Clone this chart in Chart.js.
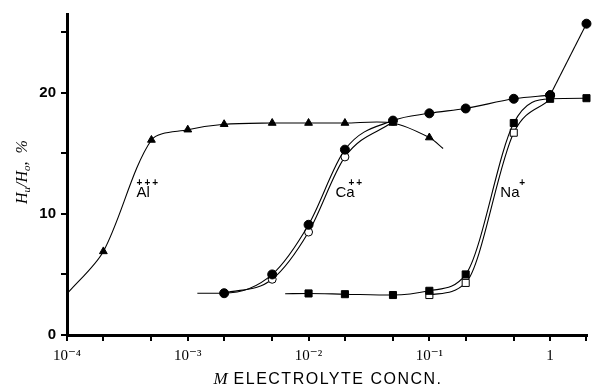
<!DOCTYPE html>
<html>
<head>
<meta charset="utf-8">
<script src="https://cdn.jsdelivr.net/npm/chart.js@4.4.1/dist/chart.umd.min.js"></script>
<style>
  html, body { margin: 0; padding: 0; background: #fff; }
  #wrap { width: 593px; height: 388px; }
</style>
</head>
<body>
<div id="wrap"><canvas id="hydration"></canvas></div>
<script>
// Hu/Ho (%) against electrolyte concentration (M)
const xTicks = [1e-4, 2e-4, 5e-4, 1e-3, 2e-3, 5e-3, 1e-2, 2e-2, 5e-2, 0.1, 0.2, 0.5, 1, 2];
const xTickLabels = ['10⁻⁴', '', '', '10⁻³', '', '', '10⁻²', '', '', '10⁻¹', '', '', '1', ''];
const yTicks = [0, 5, 10, 15, 20, 25];
const yTickLabels = ['0', '', '10', '', '20', ''];

// Al+++ triangles (first / last entries are only the ends of the drawn curve)
const alConc = [1e-4, 2e-4, 5e-4, 1e-3, 2e-3, 5e-3, 1e-2, 2e-2, 5e-2, 0.1, 0.13];
const alHu   = [3.4, 6.9, 16.1, 16.95, 17.4, 17.5, 17.5, 17.5, 17.5, 16.3, 15.4];
const alMark = [0, 1, 1, 1, 1, 1, 1, 1, 1, 1, 0];

// Ca++ filled circles
const caConc = [1.2e-3, 2e-3, 5e-3, 1e-2, 2e-2, 5e-2, 0.1, 0.2, 0.5, 1, 2];
const caHu   = [3.45, 3.45, 5.0, 9.1, 15.3, 17.7, 18.3, 18.7, 19.5, 19.8, 25.7];
const caMark = [0, 1, 1, 1, 1, 1, 1, 1, 1, 1, 1];

// Ca++ open circles
const caOpenConc = [2e-3, 5e-3, 1e-2, 2e-2, 5e-2];
const caOpenHu   = [3.45, 4.6, 8.5, 14.7, 17.6];
const caOpenMark = [0, 1, 1, 1, 0];

// Na+ filled squares
const naConc = [6.4e-3, 1e-2, 2e-2, 5e-2, 0.1, 0.2, 0.5, 1, 2];
const naHu   = [3.4, 3.43, 3.37, 3.3, 3.65, 5.0, 17.5, 19.5, 19.55];
const naMark = [0, 1, 1, 1, 1, 1, 1, 1, 1];

// Na+ open squares
const naOpenConc = [0.1, 0.2, 0.5, 1];
const naOpenHu   = [3.3, 4.3, 16.7, 19.45];
const naOpenMark = [1, 1, 1, 0];

// curve labels, anchored at their left edge / baseline in data units
const ionLabels = [
  { text: 'Al', sup: '+++', conc: 3.77e-4, hu: 11.36, supDx: 0 },
  { text: 'Ca', sup: '++', conc: 1.67e-2, hu: 11.36, supDx: 13 },
  { text: 'Na', sup: '+', conc: 0.387, hu: 11.36, supDx: 19 }
];

function pts(xs, ys) {
  return xs.map((x, i) => ({ x: x, y: ys[i] }));
}

function markRadius(marks, r) {
  return ctx => marks[ctx.dataIndex] ? r : 0;
}

function series(xs, ys, marks, style, r, fill) {
  return {
    data: pts(xs, ys),
    borderColor: '#000',
    borderWidth: 1.1,
    cubicInterpolationMode: 'monotone',
    pointStyle: style,
    pointRadius: markRadius(marks, r),
    pointBackgroundColor: fill,
    pointBorderColor: '#000',
    pointBorderWidth: 1,
    clip: false
  };
}

const caCurve = series(caConc.slice(0, -1), caHu.slice(0, -1), caMark.slice(0, -1), 'circle', 4.5, '#000');
const caJump = series(caConc.slice(-2), caHu.slice(-2), caMark.slice(-2), 'circle', 4.5, '#000');
caJump.cubicInterpolationMode = 'default';
caJump.tension = 0;

const alCurve = series(alConc, alHu, alMark, 'triangle', 4.5, '#000');
alCurve.cubicInterpolationMode = 'default';
alCurve.tension = 0.3;

const labelPlugin = {
  id: 'labelPlugin',
  afterDatasetsDraw(chart) {
    const c = chart.ctx;
    const xs = chart.scales.x, ys = chart.scales.y;
    c.save();
    c.fillStyle = '#000';
    c.textBaseline = 'alphabetic';
    ionLabels.forEach(l => {
      const px = xs.getPixelForValue(l.conc);
      const py = ys.getPixelForValue(l.hu);
      c.font = '15px "Liberation Sans", Arial, sans-serif';
      c.textAlign = 'left';
      c.fillText(l.text, px, py);
      c.font = 'bold 10px "Liberation Sans", Arial, sans-serif';
      c.letterSpacing = '2px';
      c.fillText(l.sup, px + l.supDx, py - 11);
      c.letterSpacing = '0px';
    });

    // x axis title: italic M + ELECTROLYTE CONCN.
    const rest = ' ELECTROLYTE CONCN.';
    c.font = 'italic 17px "Liberation Serif", serif';
    const mW = c.measureText('M').width;
    c.font = '16px "Liberation Sans", Arial, sans-serif';
    c.letterSpacing = '1.5px';
    const rW = c.measureText(rest).width;
    let x0 = 328 - (mW + rW) / 2;
    const by = 384;
    c.font = 'italic 17px "Liberation Serif", serif';
    c.letterSpacing = '0px';
    c.fillText('M', x0, by);
    c.font = '16px "Liberation Sans", Arial, sans-serif';
    c.letterSpacing = '1.5px';
    c.fillText(rest, x0 + mW, by);
    c.letterSpacing = '0px';

    // y axis title: Hu/Ho, %
    const parts = [['H', 16, 0], ['u', 11, 3], ['/', 16, 0], ['H', 16, 0], ['o', 11, 3], [',  %', 16, 0]];
    let total = 0;
    parts.forEach(p => {
      c.font = 'italic ' + p[1] + 'px "Liberation Serif", serif';
      total += c.measureText(p[0]).width;
    });
    c.translate(27, 172);
    c.rotate(-Math.PI / 2);
    let tx = -total / 2;
    parts.forEach(p => {
      c.font = 'italic ' + p[1] + 'px "Liberation Serif", serif';
      c.fillText(p[0], tx, p[2]);
      tx += c.measureText(p[0]).width;
    });
    c.restore();
  }
};

new Chart(document.getElementById('hydration'), {
  type: 'line',
  data: {
    datasets: [
      caCurve,
      caJump,
      series(naConc, naHu, naMark, 'rect', 5, '#000'),
      series(caOpenConc, caOpenHu, caOpenMark, 'circle', 4, '#fff'),
      series(naOpenConc, naOpenHu, naOpenMark, 'rect', 5, '#fff'),
      alCurve
    ]
  },
  options: {
    responsive: true,
    maintainAspectRatio: false,
    animation: false,
    layout: { padding: { top: 13, right: 3, left: 0, bottom: 0 } },
    plugins: { legend: { display: false }, tooltip: { enabled: false } },
    scales: {
      x: {
        type: 'logarithmic',
        min: 1e-4,
        max: 2.02,
        afterBuildTicks: s => { s.ticks = xTicks.map(v => ({ value: v })); },
        afterFit: s => { s.height = 53; },
        grid: { drawOnChartArea: false, drawTicks: true, tickLength: 6, color: '#000', lineWidth: 2 },
        border: { display: true, color: '#000', width: 3 },
        ticks: {
          autoSkip: false,
          maxRotation: 0,
          padding: 6,
          color: '#000',
          font: { family: '"Liberation Serif", "DejaVu Serif", serif', size: 15 },
          callback: (v, i) => xTickLabels[i]
        }
      },
      y: {
        min: 0,
        max: 26.5,
        afterBuildTicks: s => { s.ticks = yTicks.map(v => ({ value: v })); },
        afterFit: s => { s.width = 67; },
        grid: { drawOnChartArea: false, drawTicks: true, tickLength: 6, color: '#000', lineWidth: 2 },
        border: { display: true, color: '#000', width: 3 },
        ticks: {
          padding: 5,
          color: '#000',
          font: { family: '"Liberation Sans", Arial, sans-serif', size: 15, weight: 'bold' },
          callback: (v, i) => yTickLabels[i]
        }
      }
    }
  },
  plugins: [labelPlugin]
});
</script>
</body>
</html>
